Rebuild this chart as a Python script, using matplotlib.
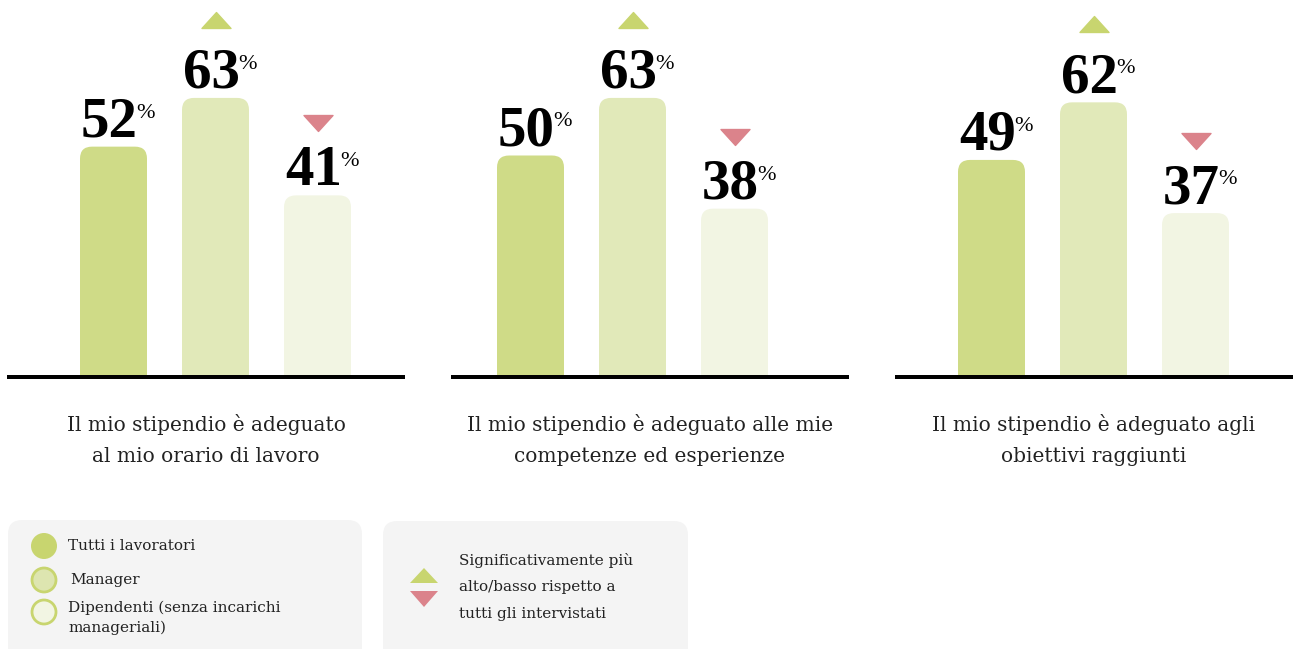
import matplotlib
matplotlib.use("Agg")
import matplotlib.pyplot as plt
from matplotlib.patches import FancyBboxPatch, Circle, Polygon
from matplotlib.path import Path
from matplotlib.transforms import offset_copy

# ---------------- data ----------------
groups = ["Tutti i lavoratori", "Manager", "Dipendenti (senza incarichi\nmanageriali)"]
categories = [
    "Il mio stipendio è adeguato\nal mio orario di lavoro",
    "Il mio stipendio è adeguato alle mie\ncompetenze ed esperienze",
    "Il mio stipendio è adeguato agli\nobiettivi raggiunti",
]
values = [
    [52, 63, 41],
    [50, 63, 38],
    [49, 62, 37],
]
# +1 significantly higher, -1 significantly lower, 0 none
significance = [
    [0, 1, -1],
    [0, 1, -1],
    [0, 1, -1],
]
legend_sig_text = "Significativamente più\nalto/basso rispetto a\ntutti gli intervistati"

# ---------------- style ----------------
bar_colors = ["#cfdb87", "#e1e9b9", "#f2f5e3"]
green_tri = "#c8d56f"
red_tri = "#db838b"
legend_bg = "#f4f4f4"
text_color = "#222222"

W, H = 1293, 649
DPI = 100
fig = plt.figure(figsize=(W / DPI, H / DPI), dpi=DPI)

base_y = 377          # px from top
px_per_unit = 4.43    # px per percentage point
spacing = 102         # px between bar centres
bar_w_px = 67
panel_x0 = [7, 451, 895]
panel_w = 398
first_offset = [106.5, 79.5, 96.5]
ymax = base_y / px_per_unit

tri_up = Path([(-1, -0.55), (1, -0.55), (0, 0.55), (-1, -0.55)],
              [Path.MOVETO, Path.LINETO, Path.LINETO, Path.CLOSEPOLY])
tri_down = Path([(-1, 0.55), (1, 0.55), (0, -0.55), (-1, 0.55)],
                [Path.MOVETO, Path.LINETO, Path.LINETO, Path.CLOSEPOLY])

for p in range(3):
    left = panel_x0[p] / W
    bottom = (H - base_y) / H
    ax = fig.add_axes([left, bottom, panel_w / W, base_y / H])
    xl = -first_offset[p] / spacing
    ax.set_xlim(xl, xl + panel_w / spacing)
    ax.set_ylim(0, ymax)
    ax.axis("off")

    bw = bar_w_px / spacing
    r = 12 / spacing
    aspect = spacing / px_per_unit
    for i, v in enumerate(values[p]):
        patch = FancyBboxPatch((i - bw / 2, -5), bw, v + 5,
                               boxstyle=f"round,pad=0,rounding_size={r}",
                               mutation_aspect=aspect,
                               facecolor=bar_colors[i], edgecolor="none")
        ax.add_patch(patch)

        tr = offset_copy(ax.transData, fig=fig, x=-4, y=10, units="dots")
        num = ax.text(i, v, f"{v}", transform=tr, ha="center", va="baseline",
                      fontsize=41, fontweight="bold", family="Liberation Serif",
                      color="black", clip_on=False)
        ax.annotate("%", xy=(1, 1), xycoords=num, xytext=(-1.5, -5),
                    textcoords="offset points", ha="left", va="top",
                    fontsize=16, family="Liberation Serif", color="black",
                    annotation_clip=False)

        s = significance[p][i]
        if s != 0:
            trm = offset_copy(ax.transData, fig=fig, y=78 if s > 0 else 72, units="dots")
            ax.plot([i], [v], transform=trm, marker=tri_up if s > 0 else tri_down,
                    markersize=29 * 72 / DPI, color=green_tri if s > 0 else red_tri,
                    linestyle="none", clip_on=False)

fg = fig.add_axes([0, 0, 1, 1], zorder=5)
fg.set_xlim(0, W)
fg.set_ylim(H, 0)
fg.axis("off")
for p in range(3):
    fg.plot([panel_x0[p], panel_x0[p] + panel_w], [base_y, base_y], color="black",
            lw=4 * 72 / DPI, solid_capstyle="butt")
    fg.text(panel_x0[p] + panel_w / 2, 440, categories[p], ha="center", va="center",
            fontsize=14.5, family="DejaVu Serif", color=text_color, linespacing=1.83)

# legend boxes
fg.add_patch(FancyBboxPatch((8, 520), 354, 150, boxstyle="round,pad=0,rounding_size=14",
                            facecolor=legend_bg, edgecolor="none"))
fg.add_patch(FancyBboxPatch((383, 521), 305, 150, boxstyle="round,pad=0,rounding_size=14",
                            facecolor=legend_bg, edgecolor="none"))

circ_y = [546, 580, 612]
fg.add_patch(Circle((44, circ_y[0]), 13, facecolor="#c8d56f", edgecolor="none"))
fg.add_patch(Circle((44, circ_y[1]), 12, facecolor="#dde5b0", edgecolor="#c8d56f", lw=2))
fg.add_patch(Circle((44, circ_y[2]), 12, facecolor="#f2f5e3", edgecolor="#c8d56f", lw=2))
fg.text(68, circ_y[0], groups[0], ha="left", va="center", fontsize=11,
        family="DejaVu Serif", color=text_color)
fg.text(70, circ_y[1], groups[1], ha="left", va="center", fontsize=11,
        family="DejaVu Serif", color=text_color)
fg.text(68, 618, groups[2], ha="left", va="center", fontsize=11,
        family="DejaVu Serif", color=text_color, linespacing=1.45)

fg.add_patch(Polygon([(410, 583), (438, 583), (424, 568)], closed=True,
                     facecolor=green_tri, edgecolor="none"))
fg.add_patch(Polygon([(410, 591), (438, 591), (424, 607)], closed=True,
                     facecolor=red_tri, edgecolor="none"))
fg.text(459, 587, legend_sig_text, ha="left", va="center", fontsize=11,
        family="DejaVu Serif", color=text_color, linespacing=2.14)

fig.savefig("out.png", dpi=DPI)
